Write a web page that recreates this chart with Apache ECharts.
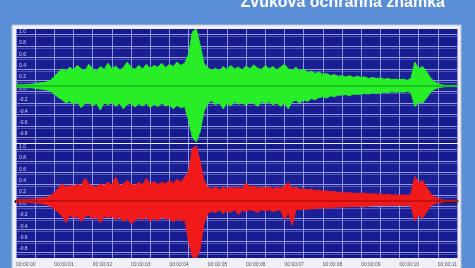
<!DOCTYPE html>
<html><head><meta charset="utf-8">
<script src="https://cdn.jsdelivr.net/npm/echarts@6/dist/echarts.min.js"></script>
<style>html,body{margin:0;padding:0;background:#5a8ed6;overflow:hidden}#c{width:475px;height:268px}</style>
</head><body><div id="c"></div>
<script>
const titleText = 'Zvuková ochranná známka';
const tickLabels = ['00:00:00','00:00:01','00:00:02','00:00:03','00:00:04','00:00:05','00:00:06','00:00:07','00:00:08','00:00:09','00:00:10','00:00:11'];
const stepSeconds = 0.1;
const greenUpper = [
0.02,0.02,0.02,0.03,0.03, 0.04,0.05,0.06,0.07,0.1, 0.16,0.24,0.3,0.26,0.33, 0.28,0.36,0.3,0.27,0.38,
0.3,0.26,0.34,0.29,0.4, 0.3,0.35,0.28,0.32,0.42, 0.33,0.29,0.36,0.3,0.38, 0.31,0.36,0.33,0.4,0.32,
0.38,0.34,0.42,0.36,0.4, 0.55,0.95,1.0,0.72,0.4, 0.32,0.27,0.31,0.26,0.34, 0.29,0.36,0.3,0.33,0.28,
0.35,0.3,0.37,0.31,0.29, 0.36,0.3,0.34,0.28,0.33, 0.38,0.3,0.27,0.33,0.26, 0.3,0.24,0.26,0.22,0.25,
0.2,0.22,0.18,0.2,0.17, 0.18,0.16,0.18,0.15,0.17, 0.15,0.16,0.13,0.15,0.13, 0.14,0.12,0.13,0.11,0.12,
0.11,0.12,0.1,0.13,0.42, 0.3,0.34,0.26,0.15,0.08, 0.04,0.02,0.01,0.01,0.01,0.01];
const greenLower = [
-0.02,-0.02,-0.02,-0.03,-0.03, -0.04,-0.05,-0.06,-0.07,-0.09, -0.14,-0.2,-0.24,-0.3,-0.26, -0.33,-0.27,-0.38,-0.3,-0.28,
-0.35,-0.3,-0.42,-0.29,-0.33, -0.28,-0.36,-0.3,-0.4,-0.32, -0.3,-0.37,-0.31,-0.35,-0.3, -0.38,-0.32,-0.36,-0.3,-0.35,
-0.33,-0.4,-0.34,-0.38,-0.36, -0.6,-0.9,-0.98,-0.8,-0.45, -0.3,-0.26,-0.33,-0.28,-0.4, -0.3,-0.35,-0.27,-0.32,-0.29,
-0.34,-0.28,-0.3,-0.36,-0.27, -0.31,-0.27,-0.33,-0.29,-0.36, -0.3,-0.4,-0.28,-0.25,-0.3, -0.24,-0.27,-0.22,-0.24,-0.2,
-0.19,-0.21,-0.17,-0.19,-0.16, -0.16,-0.15,-0.17,-0.14,-0.15, -0.14,-0.13,-0.14,-0.12,-0.13, -0.12,-0.11,-0.12,-0.1,-0.11,
-0.1,-0.11,-0.09,-0.12,-0.36, -0.28,-0.3,-0.22,-0.12,-0.06, -0.03,-0.02,-0.01,-0.01,-0.01,-0.01];
const redUpper = [
0.02,0.02,0.02,0.02,0.03, 0.03,0.04,0.05,0.06,0.09, 0.15,0.22,0.3,0.24,0.28, 0.25,0.3,0.26,0.4,0.3,
0.26,0.24,0.3,0.27,0.33, 0.28,0.42,0.26,0.3,0.36, 0.3,0.27,0.33,0.28,0.4, 0.3,0.34,0.29,0.33,0.3,
0.36,0.31,0.38,0.33,0.42, 0.5,0.92,0.97,0.7,0.36, 0.24,0.21,0.25,0.2,0.24, 0.21,0.25,0.22,0.24,0.21,
0.32,0.24,0.26,0.22,0.25, 0.22,0.25,0.21,0.24,0.22, 0.26,0.32,0.22,0.24,0.2, 0.22,0.19,0.21,0.18,0.19,
0.17,0.18,0.16,0.17,0.15, 0.16,0.14,0.15,0.13,0.14, 0.13,0.14,0.12,0.13,0.12, 0.12,0.11,0.12,0.1,0.11,
0.1,0.11,0.09,0.12,0.43, 0.32,0.36,0.25,0.14,0.07, 0.04,0.02,0.01,0.01,0.01,0.01];
const redLower = [
-0.02,-0.02,-0.02,-0.02,-0.03, -0.03,-0.04,-0.05,-0.06,-0.09, -0.14,-0.2,-0.26,-0.38,-0.24, -0.3,-0.26,-0.36,-0.27,-0.25,
-0.32,-0.27,-0.38,-0.26,-0.3, -0.26,-0.33,-0.28,-0.36,-0.3, -0.4,-0.34,-0.29,-0.33,-0.28, -0.36,-0.3,-0.34,-0.28,-0.32,
-0.3,-0.37,-0.31,-0.35,-0.33, -0.7,-0.98,-1.0,-0.85,-0.4, -0.22,-0.18,-0.2,-0.16,-0.22, -0.17,-0.2,-0.15,-0.24,-0.16,
-0.19,-0.15,-0.17,-0.2,-0.15, -0.18,-0.15,-0.19,-0.16,-0.16, -0.33,-0.2,-0.43,-0.15,-0.15, -0.14,-0.15,-0.13,-0.14,-0.12,
-0.12,-0.13,-0.11,-0.12,-0.1, -0.11,-0.1,-0.1,-0.09,-0.1, -0.09,-0.09,-0.09,-0.08,-0.08, -0.08,-0.08,-0.08,-0.07,-0.08,
-0.07,-0.08,-0.07,-0.09,-0.35, -0.25,-0.3,-0.2,-0.1,-0.05, -0.03,-0.02,-0.01,-0.01,-0.01,-0.01];

const GREEN = '#27ee27', GREEN_CORE = '#17b617', RED = '#f01a1a', RED_CORE = '#b80e0e';
const toPairs = arr => arr.map((v, i) => [+(i * stepSeconds).toFixed(1), v]);

function xAxisCfg(gridIndex, bottom) {
  return {
    type: 'value', gridIndex, min: 0, max: 11.5, interval: 0.5,
    axisLine: bottom ? {show: true, lineStyle: {color: '#000', width: 3}} : {show: true, lineStyle: {color: '#c9ccf2', width: 1}},
    axisTick: bottom ? {show: true, length: 2, lineStyle: {color: '#888'}} : {show: false},
    minorTick: bottom ? {show: true, splitNumber: 5, length: 1.5, lineStyle: {color: '#999'}} : {show: false},
    axisLabel: bottom ? {
      show: true, fontSize: 5, color: '#556', align: 'left', margin: 4, fontFamily: 'Liberation Sans',
      formatter: v => Number.isInteger(v) ? (tickLabels[v] || '') : ''
    } : {show: false},
    splitLine: {show: true, lineStyle: {color: '#8e95de', width: 1}}
  };
}
function yAxisCfg(gridIndex) {
  return {
    type: 'value', gridIndex, min: -1, max: 1, interval: 0.1,
    axisLine: {show: false}, axisTick: {show: false},
    axisLabel: {
      inside: true, fontSize: 5, color: '#d4d6f4', margin: 3, verticalAlign: 'top', fontFamily: 'Liberation Sans',
      formatter: v => { const k = Math.round(v * 10); if (k % 2 !== 0 || k === -10) return ''; return (k / 10).toFixed(1); }
    },
    splitLine: {show: true, lineStyle: {color: ['rgba(0,0,0,0)', 'rgba(200,205,250,0.7)'], width: 1,
      shadowColor: 'rgba(200,205,250,0.45)', shadowOffsetY: 2, shadowBlur: 0}}
  };
}
function wave(data, color, core, idx, withCore) {
  const s = {
    type: 'line', xAxisIndex: idx, yAxisIndex: idx, data: toPairs(data), showSymbol: false, symbol: 'none',
    lineStyle: {color, width: 1}, areaStyle: {color, opacity: 1}, silent: true, animation: false, z: 3
  };
  if (withCore) {
    s.markLine = {silent: true, symbol: 'none', label: {show: false}, animation: false,
      lineStyle: {color: core, width: 1.5, type: 'solid'}, data: [{yAxis: 0}]};
  }
  return s;
}
const bg = {type: 'linear', x: 0, y: 0, x2: 0, y2: 1, colorStops: [
  {offset: 0, color: '#161a8c'}, {offset: 0.5, color: '#1d2299'}, {offset: 1, color: '#14188a'}]};

const chart = echarts.init(document.getElementById('c'), null, {renderer: 'canvas'});
chart.setOption({
  backgroundColor: '#5a8ed6',
  animation: false,
  graphic: [
    {type: 'rect', z: -10, shape: {x: 12, y: 25, width: 449, height: 250}, style: {fill: '#eef0f5', stroke: '#c0c4cc', lineWidth: 1}},
    {type: 'text', z: 10, x: 445, y: 11, style: {text: titleText, fill: '#ffffff', font: 'bold 16px "Liberation Sans"', textAlign: 'right', textVerticalAlign: 'bottom'}}
  ],
  grid: [
    {left: 16, top: 29, width: 441, height: 114, show: true, backgroundColor: bg, borderWidth: 0},
    {left: 16, top: 144, width: 441, height: 114, show: true, backgroundColor: bg, borderWidth: 0}
  ],
  xAxis: [xAxisCfg(0, false), xAxisCfg(1, true)],
  yAxis: [yAxisCfg(0), yAxisCfg(1)],
  series: [wave(greenUpper, GREEN, GREEN_CORE, 0, true), wave(greenLower, GREEN, GREEN_CORE, 0, false),
           wave(redUpper, RED, RED_CORE, 1, true), wave(redLower, RED, RED_CORE, 1, false)]
});
</script></body></html>
